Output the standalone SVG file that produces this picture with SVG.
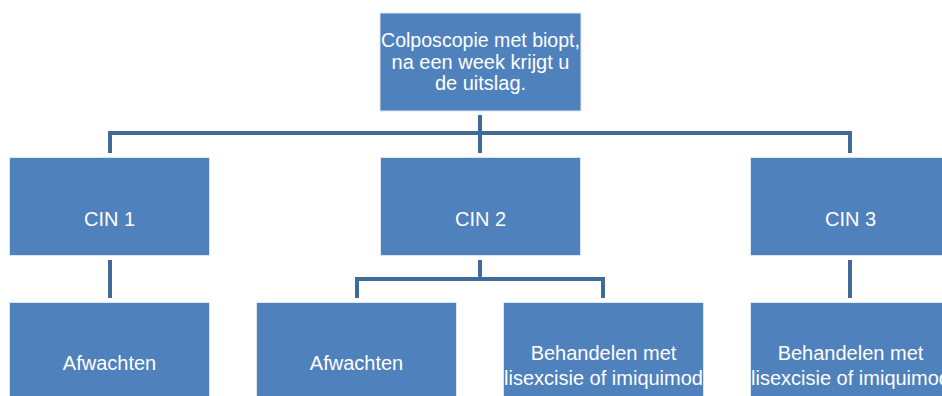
<svg xmlns="http://www.w3.org/2000/svg" width="942" height="396" viewBox="0 0 942 396">
<style>
.box{fill:#4F81BD;stroke:#DCE6F2;stroke-width:1}
.t{font-family:"Liberation Sans",Arial,sans-serif;font-size:20px;fill:#FFFFFF;text-anchor:middle}
.c{fill:none;stroke:#3F6A9A;stroke-width:4}
</style>
<rect width="942" height="396" fill="#FFFFFF"/>
<g id="connectors">
<path class="c" d="M480,115 V153 M110,153 V133 H850 V153"/>
<path class="c" d="M110,260 V298"/>
<path class="c" d="M480,260 V279 M357,298 V279 H603 V298"/>
<path class="c" d="M850,260 V298"/>
</g>
<g id="root">
<rect class="box" x="380" y="13" width="201" height="98"/>
<text class="t" x="480.5" y="47" textLength="199" lengthAdjust="spacingAndGlyphs">Colposcopie met biopt,</text>
<text class="t" x="480.5" y="69">na een week krijgt u</text>
<text class="t" x="480.5" y="90">de uitslag.</text>
</g>
<g id="cin1">
<rect class="box" x="9.5" y="157.5" width="200" height="98"/>
<text class="t" x="109.5" y="226">CIN 1</text>
</g>
<g id="cin2">
<rect class="box" x="380.5" y="157.5" width="200" height="98"/>
<text class="t" x="480.5" y="226">CIN 2</text>
</g>
<g id="cin3">
<rect class="box" x="750.5" y="157.5" width="200" height="98"/>
<text class="t" x="850.5" y="226">CIN 3</text>
</g>
<g id="afwachten1">
<rect class="box" x="9.5" y="302.5" width="200" height="100"/>
<text class="t" x="109.5" y="370">Afwachten</text>
</g>
<g id="afwachten2">
<rect class="box" x="256.5" y="302.5" width="200" height="100"/>
<text class="t" x="356.5" y="370">Afwachten</text>
</g>
<g id="behandelen2">
<rect class="box" x="503.5" y="302.5" width="200" height="100"/>
<text class="t" x="603.5" y="360">Behandelen met</text>
<text class="t" x="603.5" y="385">lisexcisie of imiquimod</text>
</g>
<g id="behandelen3">
<rect class="box" x="750.5" y="302.5" width="200" height="100"/>
<text class="t" x="850.5" y="360">Behandelen met</text>
<text class="t" x="850.5" y="385">lisexcisie of imiquimod</text>
</g>
</svg>
